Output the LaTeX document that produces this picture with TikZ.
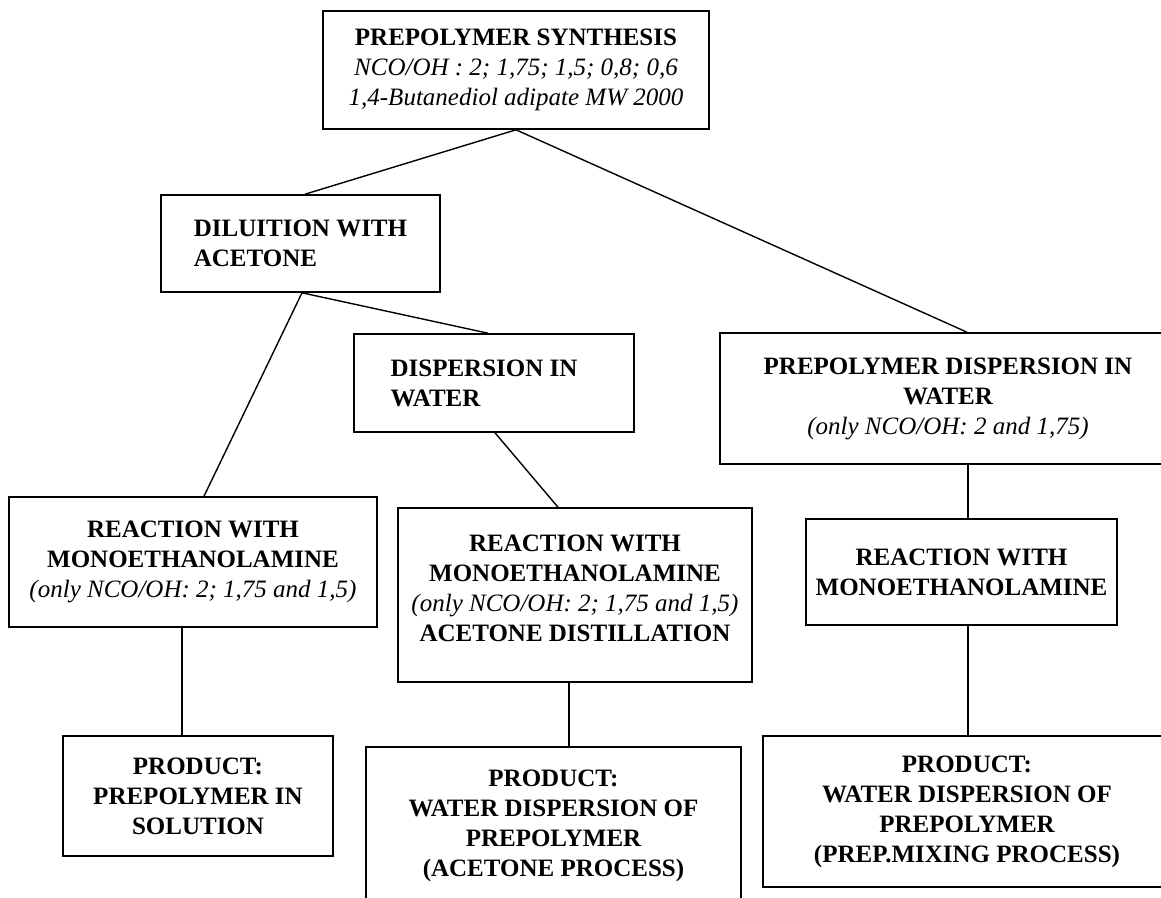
\documentclass[tikz,border=0pt]{standalone}
\usepackage{fontspec}
\setmainfont{Liberation Serif}
\begin{document}
\begin{tikzpicture}[x=1pt,y=-1pt,
  box/.style={draw, line width=1.6pt, inner sep=0pt, align=center,
    font=\fontsize{25}{30}\selectfont\bfseries},
  lbox/.style={box, align=left},
  link/.style={line width=1.4pt}]
\useasboundingbox[fill=white] (0,0) rectangle (1161,897);

\node[box, minimum width=386pt, minimum height=118pt] (b1) at (516,70)
  {PREPOLYMER SYNTHESIS\\ {\mdseries\itshape NCO/OH : 2; 1,75; 1,5; 0,8; 0,6}\\ {\mdseries\itshape 1,4-Butanediol adipate MW 2000}};

\node[lbox, minimum width=279pt, minimum height=97pt] (b2) at (300.5,243.5)
  {DILUITION WITH\\ ACETONE};

\node[lbox, minimum width=280pt, minimum height=98pt] (b3) at (494,383)
  {DISPERSION IN\hspace*{20pt}\\ WATER};

\node[box, minimum width=456pt, minimum height=131pt] (b4) at (948,398.5)
  {PREPOLYMER DISPERSION IN\\ WATER\\ {\mdseries\itshape (only NCO/OH: 2 and 1,75)}};

\node[box, minimum width=368pt, minimum height=130pt] (b5) at (193,562)
  {REACTION WITH\\ MONOETHANOLAMINE\\ {\mdseries\itshape (only NCO/OH: 2; 1,75 and 1,5)}};

\node[box, minimum width=354pt, minimum height=174pt] (b6) at (575,595)
  {REACTION WITH\\ MONOETHANOLAMINE\\ {\mdseries\itshape (only NCO/OH: 2; 1,75 and 1,5)}\\ ACETONE DISTILLATION\\[-16pt]\mbox{}};

\node[box, minimum width=311pt, minimum height=106pt] (b7) at (961.5,572)
  {REACTION WITH\\ MONOETHANOLAMINE};

\node[box, minimum width=270pt, minimum height=120pt] (b8) at (198,796)
  {PRODUCT:\\ PREPOLYMER IN\\ SOLUTION};

\node[box, minimum width=375pt, minimum height=158pt] (b9) at (553.5,826)
  {PRODUCT:\\ WATER DISPERSION OF\\ PREPOLYMER\\ (ACETONE PROCESS)};

\node[box, minimum width=408pt, minimum height=151pt] (b10) at (967,811.5)
  {PRODUCT:\\ WATER DISPERSION OF\\ PREPOLYMER\\ (PREP.MIXING PROCESS)};

\draw[link] (b1.south) -- ([xshift=4.5pt]b2.north);
\draw[link] (b1.south) -- ([xshift=19pt]b4.north);
\draw[link] ([xshift=1.5pt]b2.south) -- ([xshift=-6pt]b3.north);
\draw[link] ([xshift=1.5pt]b2.south) -- ([xshift=11pt]b5.north);
\draw[link] ([xshift=1pt]b3.south) -- ([xshift=-17pt]b6.north);
\draw[link] ([xshift=20pt]b4.south) -- ([xshift=6.5pt]b7.north);
\draw[link] ([xshift=-11pt]b5.south) -- ([xshift=-16pt]b8.north);
\draw[link] ([xshift=-6pt]b6.south) -- ([xshift=15.5pt]b9.north);
\draw[link] ([xshift=6.5pt]b7.south) -- ([xshift=1pt]b10.north);
\end{tikzpicture}
\end{document}
